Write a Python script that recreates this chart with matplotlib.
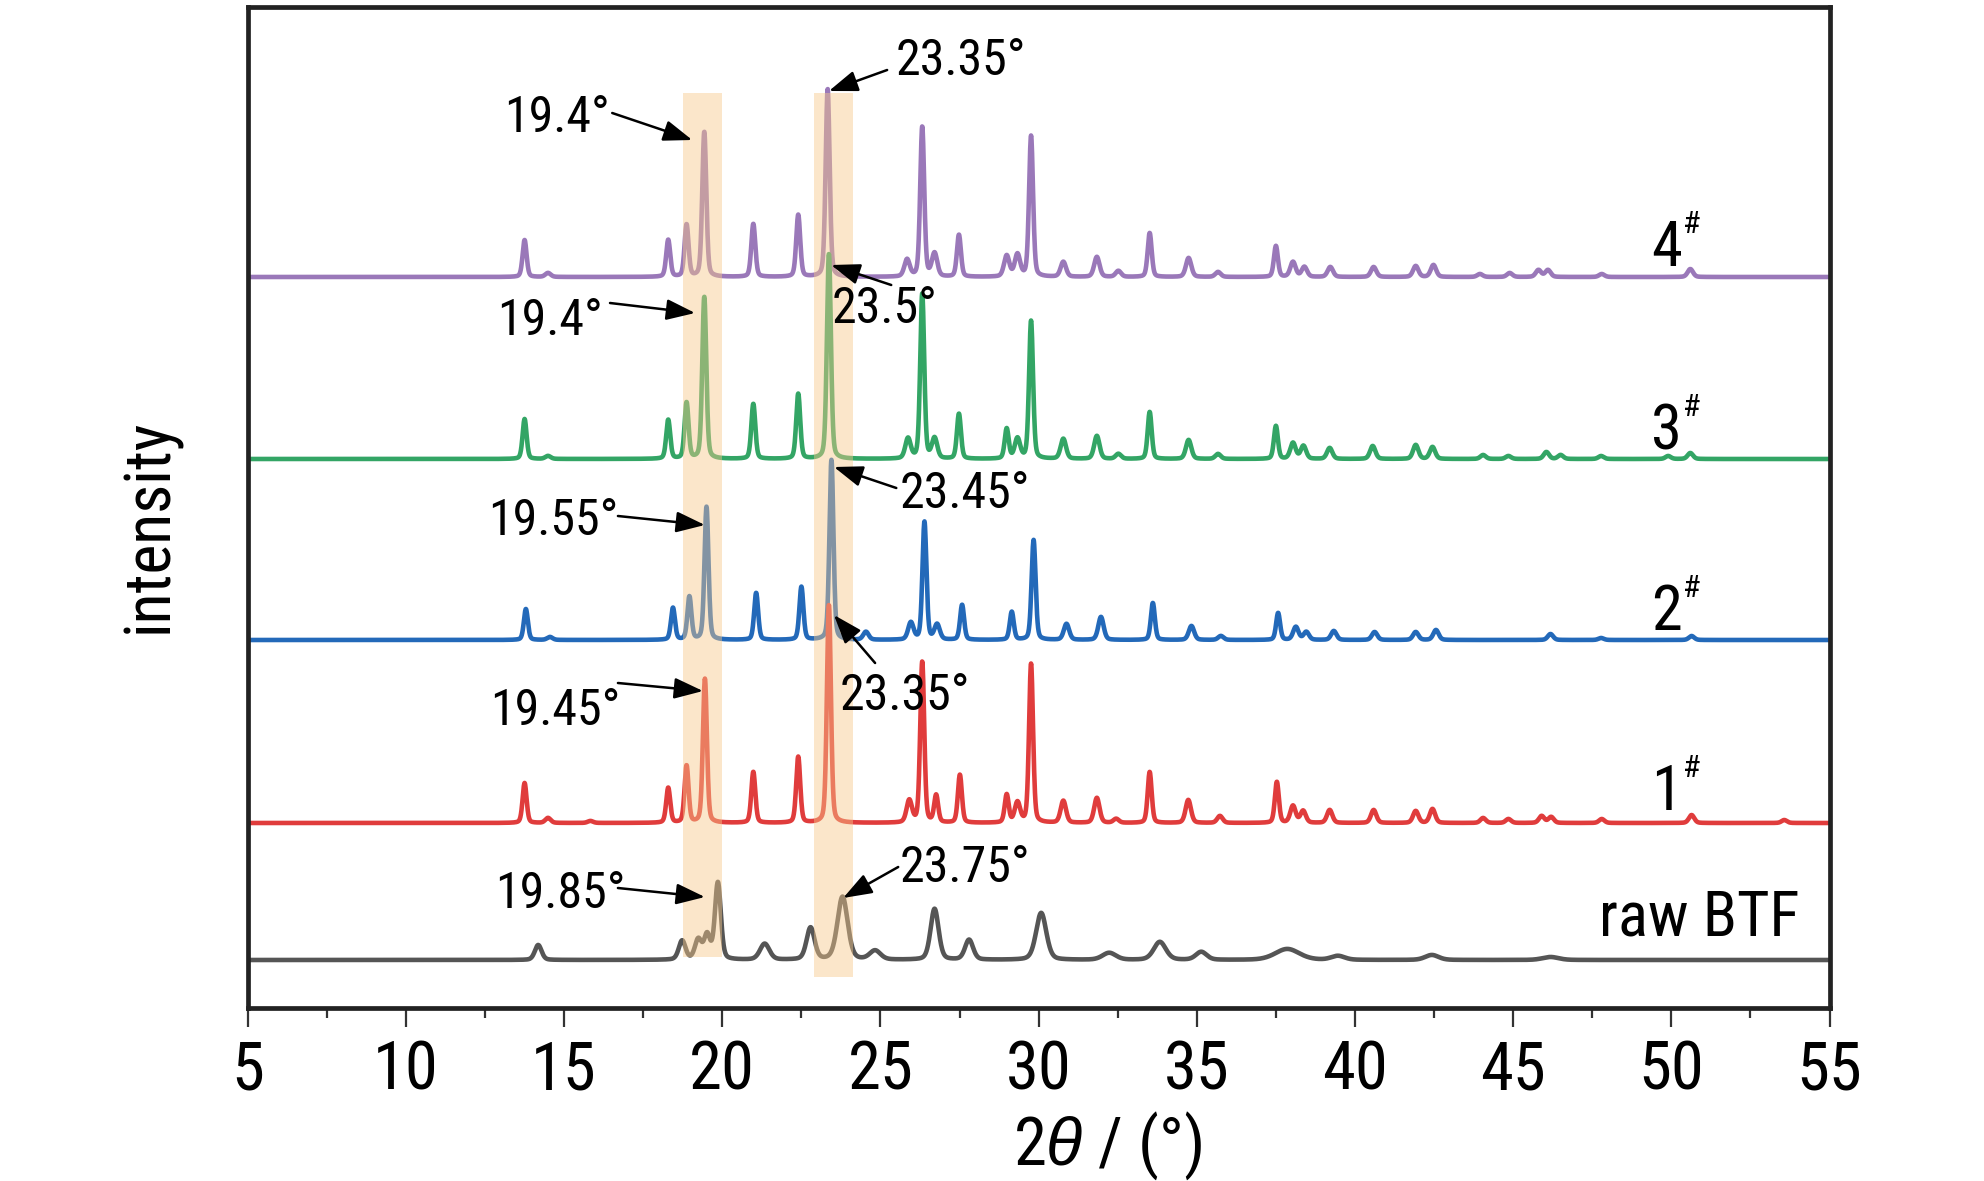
import os
import numpy as np
import matplotlib
matplotlib.use("Agg")
import matplotlib.pyplot as plt
import matplotlib.font_manager as fm
from matplotlib.font_manager import FontProperties

# ---------------- data ----------------
s4_pos = [13.75, 14.49, 18.29, 18.87, 19.43, 20.98, 22.40, 23.33, 25.84, 26.32, 26.71, 27.48,
          28.99, 29.33, 29.76, 30.78, 31.84, 32.52, 33.51, 34.74, 35.67, 37.50, 38.04, 38.40,
          39.22, 40.59, 41.92, 42.48, 43.95, 44.89, 45.80, 46.10, 47.80, 50.60]
s4_h = [37, 4, 37, 52, 145, 53, 62, 188, 17, 150, 23, 42,
        21, 22, 141, 15, 20, 6, 44, 19, 5, 31, 15, 10,
        10, 10, 11, 12, 3, 4, 7, 7, 3, 8]

s3_pos = [13.75, 14.49, 18.29, 18.87, 19.43, 20.98, 22.40, 23.37, 25.87, 26.32, 26.71, 27.48,
          28.99, 29.33, 29.76, 30.78, 31.84, 32.52, 33.51, 34.74, 35.67, 37.50, 38.04, 38.37,
          39.20, 40.56, 41.92, 42.45, 44.05, 44.85, 46.05, 46.50, 47.78, 49.90, 50.60]
s3_h = [40, 3, 39, 56, 162, 55, 65, 205, 20, 165, 20, 45,
        30, 20, 138, 20, 23, 5, 47, 19, 5, 33, 16, 13,
        11, 13, 14, 12, 4, 3, 7, 4, 3, 3, 6]

s2_pos = [13.79, 14.55, 18.44, 18.96, 19.50, 21.07, 22.50, 23.45, 24.54, 25.96, 26.39, 26.79,
          27.58, 29.15, 29.84, 30.88, 31.97, 33.61, 34.83, 35.76, 37.57, 38.13, 38.46, 39.33,
          40.62, 41.92, 42.56, 46.18, 47.78, 50.64]
s2_h = [31, 3, 32, 43, 133, 47, 53, 180, 8, 17, 118, 15,
        35, 28, 100, 16, 23, 37, 14, 4, 27, 13, 8, 9,
        8, 8, 10, 6, 2, 4]

s1_pos = [13.75, 14.49, 15.83, 18.29, 18.87, 19.45, 20.98, 22.40, 23.37, 25.91, 26.32, 26.76,
          27.51, 28.99, 29.33, 29.76, 30.78, 31.84, 32.45, 33.51, 34.73, 35.73, 37.53, 38.04,
          38.36, 39.20, 40.59, 41.92, 42.45, 44.05, 44.85, 45.90, 46.20, 47.80, 50.64, 53.57]
s1_h = [40, 5, 2, 35, 57, 144, 51, 66, 218, 22, 161, 27,
        48, 28, 20, 159, 22, 25, 4, 51, 23, 7, 41, 17,
        12, 13, 13, 12, 14, 5, 4, 7, 6, 4, 8, 3]

raw_pos = [14.18, 18.73, 19.24, 19.52, 19.86, 21.34, 22.79, 23.80, 24.83, 26.71, 27.80,
           30.08, 32.23, 33.83, 35.14, 37.86, 39.46, 42.43, 46.18]
raw_h = [15, 19, 20, 24, 77, 16, 32, 63, 9, 51, 20,
         47, 7, 18, 8, 11, 4, 5, 3]
raw_w = [0.25, 0.25, 0.25, 0.22, 0.22, 0.35, 0.30, 0.38, 0.40, 0.30, 0.30,
         0.38, 0.50, 0.45, 0.40, 0.90, 0.50, 0.50, 0.60]

series_names = ["raw BTF", "1", "2", "3", "4"]
offsets = [48, 185, 368, 549, 731]
colors = ["#555555", "#e03c3c", "#2369b9", "#33a565", "#9a78b9"]

band_x = [(18.77, 19.99), (22.91, 24.13)]
band_y = [(51, 915), (31, 915)]

# annotations: text, anchor point, horizontal alignment, arrow tail, arrow tip
ann_text = ["23.35°", "19.4°", "19.4°", "23.5°", "23.45°", "19.55°",
            "23.35°", "19.45°", "19.85°", "23.75°"]
ann_txt_xy = [(25.49, 933), (16.46, 876), (16.24, 673), (23.44, 685), (25.62, 500),
              (16.71, 473), (23.72, 298), (16.77, 283), (16.93, 100), (25.62, 126)]
ann_ha = ["left", "right", "right", "left", "left", "right", "left", "right", "right", "left"]
ann_tail = [(25.21, 938), (16.52, 895), (16.45, 705), (25.34, 723), (25.50, 520),
            (16.70, 492), (24.83, 345), (16.70, 325), (16.70, 120), (25.56, 141)]
ann_tip = [(23.37, 917), (19.05, 868), (19.14, 695), (23.44, 743), (23.53, 541),
           (19.45, 483), (23.53, 393), (19.39, 317), (19.45, 111), (23.82, 110)]


# ---------------- fonts: look for a narrow sans ----------------
def pick_font():
    ents = fm.fontManager.ttflist
    prefs = ["Liberation Sans Narrow", "Arial Narrow", "Roboto Condensed",
             "Noto Sans Condensed", "Open Sans Condensed", "DejaVu Sans Condensed"]
    bad = ("Bold", "Italic", "Oblique", "Light", "Medium", "Black", "Thin", "Semi", "Extra")
    for p in prefs:
        for f in ents:
            b = os.path.basename(f.fname)
            if f.name == p and f.style == "normal" and not any(k in b for k in bad):
                return f.fname
    for key in ("Narrow", "Condensed"):
        for f in ents:
            b = os.path.basename(f.fname)
            if key in b and f.style == "normal" and not any(k in b.replace(key, "") for k in bad):
                return f.fname
    return None


fpath = pick_font()
plt.rcParams["font.family"] = ["Liberation Sans", "DejaVu Sans"]
plt.rcParams["mathtext.fontset"] = "custom"
plt.rcParams["mathtext.rm"] = "Liberation Sans"
plt.rcParams["mathtext.it"] = "Liberation Sans:italic"


def F(size):
    if fpath:
        return FontProperties(fname=fpath, size=size)
    return FontProperties(family="Liberation Sans", size=size)


def pattern(x, pos, h, w, eta=0.3):
    y = np.zeros_like(x)
    for c, a, ww in zip(pos, h, w):
        d = (x - c) / ww
        y += a * (eta / (1 + 4 * d ** 2) + (1 - eta) * np.exp(-4 * np.log(2) * d ** 2))
    return y


x = np.linspace(5, 55, 6001)
samples = [(s1_pos, s1_h), (s2_pos, s2_h), (s3_pos, s3_h), (s4_pos, s4_h)]

fig = plt.figure(figsize=(19.84, 11.81), dpi=100)
ax = fig.add_axes([247.8 / 1984, 1 - 1008 / 1181, (1829.5 - 247.8) / 1984, (1008 - 7) / 1181])

curves = [pattern(x, raw_pos, raw_h, raw_w)]
for pos, h in samples:
    w = [0.15 if hh > 25 else 0.2 for hh in h]
    curves.append(pattern(x, pos, h, w))

for i in range(4, -1, -1):
    ax.plot(x, curves[i] + offsets[i], color=colors[i], lw=3.3, zorder=2 + (4 - i) * 0.1,
            solid_joinstyle="round")

for (x0, x1), (y0, y1) in zip(band_x, band_y):
    ax.fill_between([x0, x1], [y0, y0], [y1, y1], color="#f7c88a", alpha=0.45, lw=0, zorder=4)

for t, txy, ha, tail, tip in zip(ann_text, ann_txt_xy, ann_ha, ann_tail, ann_tip):
    ax.text(txy[0], txy[1], t, fontproperties=F(36), ha=ha, va="baseline", zorder=6)
    ax.annotate("", xy=tip, xytext=tail,
                arrowprops=dict(arrowstyle="-|>,head_length=1.1,head_width=0.4",
                                color="black", lw=1.8, shrinkA=0, shrinkB=0,
                                mutation_scale=16), zorder=6)

ax.set_xlim(5, 55)
ax.set_ylim(0, 1001)

label_base = [742, 559, 378, 198]
digit_texts = []
for lab, yb in zip(series_names[:0:-1], label_base):
    digit_texts.append(ax.text(49.37, yb, lab, fontproperties=F(45), ha="left",
                               va="baseline", zorder=6))
ax.text(54.04, 72, series_names[0], fontproperties=F(45), ha="right", va="baseline", zorder=6)

ax.set_xticks(np.arange(5, 56, 5))
ax.set_xticks(np.arange(7.5, 55, 5), minor=True)
ax.set_yticks([])
ax.tick_params(axis="x", which="major", direction="out", length=13.7, width=1.6,
               pad=9, labelsize=48, color="#333333")
ax.tick_params(axis="x", which="minor", direction="out", length=7.2, width=1.6,
               color="#333333")
for lbl in ax.get_xticklabels():
    lbl.set_fontproperties(F(48))
for sp in ax.spines.values():
    sp.set_linewidth(3.4)
    sp.set_color("#222222")

fig.text(1107 / 1984, 1 - 1165 / 1181, r"2$\mathit{\theta}$ / (°)", fontproperties=F(48),
         ha="center", va="baseline")
fig.text(150 / 1984, 1 - 526 / 1181, "intensity", fontproperties=F(46), rotation=90,
         ha="center", va="center")

# superscript '#' placed just right of each digit
fig.canvas.draw()
rend = fig.canvas.get_renderer()
inv = ax.transData.inverted()
for t, yb in zip(digit_texts, label_base):
    bb = t.get_window_extent(rend)
    xd = inv.transform((bb.x1 + 1, 0))[0]
    ax.text(xd, yb + 33, "#", fontproperties=F(23), ha="left", va="baseline", zorder=6)

fig.savefig("out.png", dpi=100)
